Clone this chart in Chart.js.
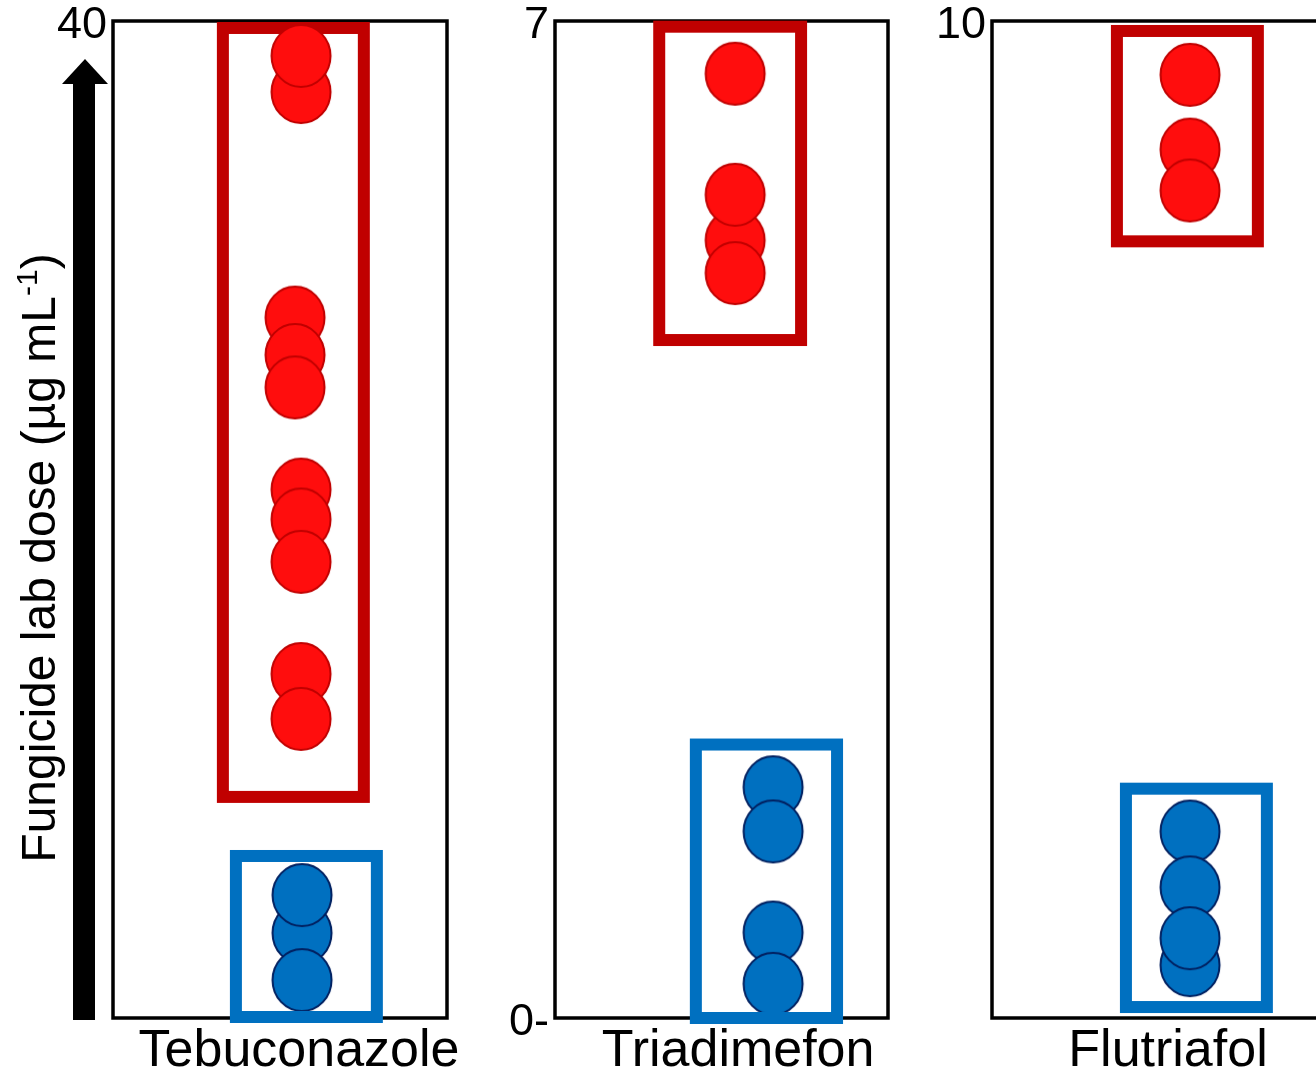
<!DOCTYPE html>
<html lang="en">
<head>
<meta charset="UTF-8" />
<title>Fungicide lab dose</title>
<script src="https://cdn.jsdelivr.net/npm/chart.js"></script>
<style>
  html, body { margin: 0; padding: 0; background: #fff; overflow: hidden; }
  #wrap { position: relative; width: 1316px; height: 1078px; overflow: hidden; }
  canvas { position: absolute; top: 0; }
</style>
</head>
<body>
<div id="wrap">
  <canvas id="p0" width="480" height="1078" style="left:0px"></canvas>
  <canvas id="p1" width="430" height="1078" style="left:480px"></canvas>
  <canvas id="p2" width="420" height="1078" style="left:910px"></canvas>
</div>
<script>
// ---- data ----
const fungicides = ['Tebuconazole', 'Triadimefon', 'Flutriafol'];
const doseMax = [40, 7, 10];
const doseTicks = [[40], [0, 7], [10]];
const doseTickLabels = [['40'], ['0-', '7'], ['10']];
const namePos = [0.557, 0.55, 0.527];

// red = high lab dose isolates, blue = low; listed in drawing order
const tebuRedDose = [37.15, 38.6, 28.1, 26.6, 25.3, 21.2, 20.0, 18.3, 13.8, 12.0];
const tebuRedPos  = [0.563, 0.563, 0.545, 0.545, 0.545, 0.563, 0.563, 0.563, 0.563, 0.563];
const tebuBlueDose = [3.41, 4.93, 1.52];
const tebuBluePos  = [0.566, 0.566, 0.566];

const triaRedDose = [6.63, 5.46, 5.78, 5.23];
const triaRedPos  = [0.541, 0.541, 0.541, 0.541];
const triaBlueDose = [1.62, 1.31, 0.60, 0.24];
const triaBluePos  = [0.655, 0.655, 0.655, 0.655];

const flutRedDose = [9.46, 8.71, 8.30];
const flutRedPos  = [0.593, 0.593, 0.593];
const flutBlueDose = [0.53, 1.87, 1.31, 0.80];
const flutBluePos  = [0.593, 0.593, 0.593, 0.593];

// group boxes: [xMin, xMax, doseMin, doseMax]
const redBoxes  = [[0.329, 0.751, 8.87, 39.72], [0.313, 0.739, 4.76, 6.96], [0.374, 0.796, 7.79, 9.90]];
const blueBoxes = [[0.368, 0.790, 0.04, 6.5], [0.423, 0.847, 0, 1.92], [0.401, 0.823, 0.11, 2.30]];

const redSeries  = [[tebuRedPos, tebuRedDose], [triaRedPos, triaRedDose], [flutRedPos, flutRedDose]];
const blueSeries = [[tebuBluePos, tebuBlueDose], [triaBluePos, triaBlueDose], [flutBluePos, flutBlueDose]];

// ---- layout ----
const FONT = "'Liberation Sans', Arial, Helvetica, sans-serif";
const layout = [
  { canvasLeft: 0,   canvasWidth: 480, plotLeft: 113, plotRight: 447 },
  { canvasLeft: 480, canvasWidth: 430, plotLeft: 555, plotRight: 888 },
  { canvasLeft: 910, canvasWidth: 420, plotLeft: 992, plotRight: 1326 }
];
const plotTop = 21, xAxisH = 60;

function makeMarker(fill, stroke) {
  const c = document.createElement('canvas');
  c.width = 66; c.height = 70;
  const g = c.getContext('2d');
  g.beginPath();
  g.ellipse(33, 35, 29.5, 31, 0, 0, Math.PI * 2);
  g.fillStyle = fill;
  g.fill();
  g.lineWidth = 2;
  g.strokeStyle = stroke;
  g.stroke();
  return c;
}
const redMarker = makeMarker('#ff0d0d', '#c00000');
const blueMarker = makeMarker('#0070c0', '#002060');

function zip(xs, ys) {
  return xs.map((x, k) => ({ x: x, y: ys[k] }));
}

function drawBox(chart, b, color) {
  const { ctx, scales } = chart;
  const x0 = scales.x.getPixelForValue(b[0]);
  const x1 = scales.x.getPixelForValue(b[1]);
  const y0 = scales.y.getPixelForValue(b[3]);
  const y1 = scales.y.getPixelForValue(b[2]);
  ctx.save();
  ctx.lineWidth = 12;
  ctx.strokeStyle = color;
  ctx.lineJoin = 'miter';
  ctx.strokeRect(x0, y0, x1 - x0, y1 - y0);
  ctx.restore();
}

function drawFrame(chart) {
  const { ctx, chartArea: a } = chart;
  ctx.save();
  ctx.lineWidth = 3.5;
  ctx.strokeStyle = '#000';
  ctx.strokeRect(a.left, a.top, a.right - a.left, a.bottom - a.top);
  ctx.restore();
}

// arrow and y title live only in the first panel
function drawYDecor(chart) {
  const ctx = chart.ctx;
  ctx.save();
  ctx.fillStyle = '#000';
  ctx.fillRect(73, 83, 22, 1020 - 83);
  ctx.beginPath();
  ctx.moveTo(62, 84);
  ctx.lineTo(85, 59);
  ctx.lineTo(108, 84);
  ctx.closePath();
  ctx.fill();

  ctx.translate(55, 558);
  ctx.rotate(-Math.PI / 2);
  const main = 'Fungicide lab dose (\u00b5g mL', sup = '-1', close = ')';
  ctx.font = '48px ' + FONT;
  const w1 = ctx.measureText(main).width;
  const w3 = ctx.measureText(close).width;
  ctx.font = '30px ' + FONT;
  const w2 = ctx.measureText(sup).width;
  let x = -(w1 + w2 + w3) / 2;
  ctx.textBaseline = 'alphabetic';
  ctx.font = '48px ' + FONT;
  ctx.fillText(main, x, 0);
  x += w1;
  ctx.font = '30px ' + FONT;
  ctx.fillText(sup, x, -18);
  x += w2;
  ctx.font = '48px ' + FONT;
  ctx.fillText(close, x, 0);
  ctx.restore();
}

fungicides.forEach((name, i) => {
  const L = layout[i];
  const yAxisW = L.plotLeft - L.canvasLeft;
  const padRight = L.canvasWidth - (L.plotRight - L.canvasLeft);

  const panelPlugin = {
    id: 'panelDecor' + i,
    beforeDatasetsDraw(chart) {
      drawFrame(chart);
      drawBox(chart, redBoxes[i], '#c00000');
    },
    afterDatasetsDraw(chart) {
      drawBox(chart, blueBoxes[i], '#0070c0');
    },
    afterDraw(chart) {
      if (i === 0) drawYDecor(chart);
    }
  };

  new Chart(document.getElementById('p' + i), {
    type: 'scatter',
    data: {
      datasets: [
        {
          data: zip(redSeries[i][0], redSeries[i][1]),
          pointStyle: redMarker,
          pointRadius: 31,
          clip: false
        },
        {
          data: zip(blueSeries[i][0], blueSeries[i][1]),
          pointStyle: blueMarker,
          pointRadius: 31,
          clip: false
        }
      ]
    },
    options: {
      responsive: false,
      animation: false,
      events: [],
      layout: {
        autoPadding: false,
        padding: { top: plotTop, right: padRight, left: 0, bottom: 0 }
      },
      plugins: {
        legend: { display: false },
        tooltip: { enabled: false }
      },
      scales: {
        x: {
          type: 'linear',
          min: 0,
          max: 1,
          grid: { display: false, drawTicks: false },
          border: { display: false },
          ticks: {
            padding: 8,
            maxRotation: 0,
            autoSkip: false,
            color: '#000',
            font: { family: FONT, size: 52, lineHeight: 1 },
            callback: () => name
          },
          afterBuildTicks: s => { s.ticks = [{ value: namePos[i] }]; },
          afterFit: s => { s.height = xAxisH; s.paddingLeft = 0; s.paddingRight = 0; }
        },
        y: {
          type: 'linear',
          min: 0,
          max: doseMax[i],
          grid: { display: false, drawTicks: false },
          border: { display: false },
          ticks: {
            padding: 6,
            labelOffset: 5,
            autoSkip: false,
            color: '#000',
            font: { family: FONT, size: 45, lineHeight: 1 },
            callback: (v, idx) => doseTickLabels[i][idx]
          },
          afterBuildTicks: s => { s.ticks = doseTicks[i].map(v => ({ value: v })); },
          afterFit: s => { s.width = yAxisW; s.paddingTop = 0; s.paddingBottom = 0; }
        }
      }
    },
    plugins: [panelPlugin]
  });
});
</script>
</body>
</html>
